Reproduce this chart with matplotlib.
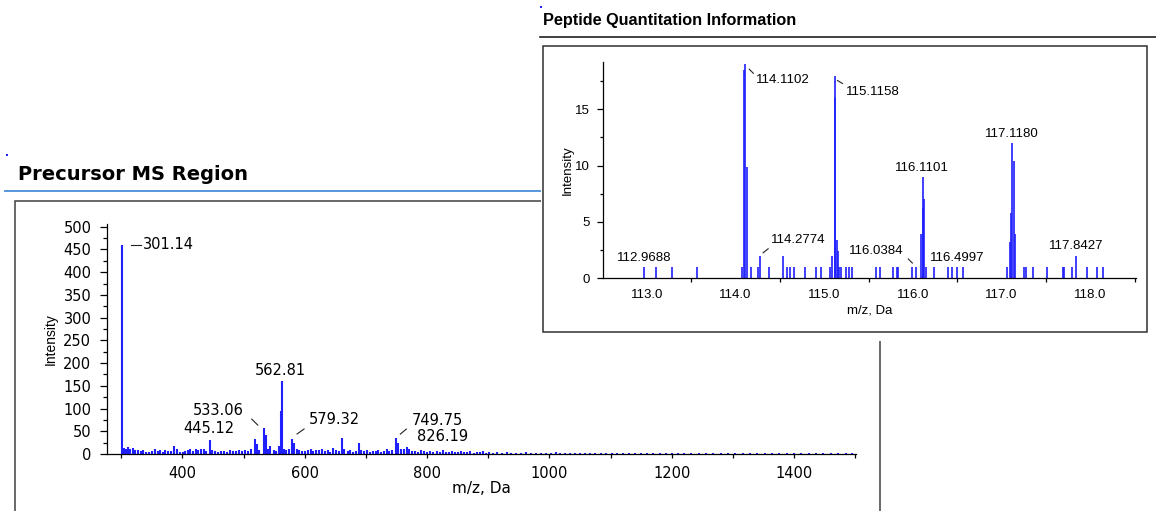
import matplotlib
matplotlib.use('Agg')
import matplotlib.pyplot as plt
from matplotlib.patches import Rectangle
from matplotlib.lines import Line2D
from matplotlib.transforms import IdentityTransform
from matplotlib.ticker import MultipleLocator, FixedLocator

W, H = 1156, 511
BLUE = '#1f1fff'
RULE_BLUE = '#4a8fdb'

# ---- precursor MS spectrum (m/z, intensity) ----
prec_mz = [301.14, 304, 308, 311, 315, 319, 323, 327, 332, 336, 341, 346, 351, 355,
           360, 364, 368, 372, 377, 381, 387, 391, 396, 401, 405, 409, 413, 418, 422,
           426, 431, 435, 439, 445.12, 448, 453, 458, 463, 468, 473, 478, 483, 488,
           493, 498, 503, 508, 513, 518, 522, 526, 533.06, 536, 540, 544, 549, 553,
           558, 561, 562.81, 566, 570, 574, 579.32, 583, 587, 591, 596, 600, 605,
           610, 614, 619, 624, 629, 633, 638, 642, 647, 651, 656, 661, 665, 670, 674,
           679, 684, 688, 692, 697, 702, 706, 711, 716, 720, 725, 729, 734, 738, 743,
           749.75, 752, 757, 762, 767, 771, 775, 780, 785, 790, 795, 800, 805, 810,
           816, 821, 826.19, 831, 836, 841, 846, 851, 856, 861, 866, 871, 876, 881,
           886, 891, 896, 902, 908, 915, 922, 930, 938, 946, 954, 962, 970, 978, 986,
           994, 1002, 1010, 1018, 1026, 1034, 1042, 1050, 1058, 1066, 1075, 1084,
           1093, 1102, 1111, 1120, 1130, 1140, 1150, 1160, 1170, 1180, 1190, 1200,
           1210, 1220, 1232, 1244, 1256, 1268, 1280, 1292, 1304, 1316, 1328, 1340,
           1352, 1364, 1376, 1388, 1400, 1412, 1424, 1436, 1448, 1460, 1472, 1484, 1495]
prec_int = [460, 14, 12, 15, 10, 13, 8, 9, 6, 8, 5, 4, 7, 12,
            6, 8, 5, 9, 7, 6, 18, 10, 5, 4, 6, 8, 11, 7, 12,
            9, 12, 10, 6, 30, 9, 6, 5, 7, 6, 5, 8, 7, 6,
            9, 7, 8, 6, 10, 33, 22, 9, 57, 42, 10, 18, 8, 6,
            18, 95, 160, 12, 8, 10, 33, 25, 12, 8, 7, 6, 8,
            10, 6, 9, 8, 10, 6, 8, 5, 14, 9, 7, 35, 10, 6, 8,
            5, 7, 24, 8, 6, 9, 5, 7, 6, 8, 5, 6, 12, 6, 8,
            35, 25, 10, 12, 15, 10, 7, 6, 5, 8, 6, 5, 7, 4,
            6, 5, 9, 5, 4, 6, 5, 4, 7, 4, 5, 6, 3, 5,
            4, 7, 3, 4, 3, 4, 3, 4, 3, 2, 3, 4, 3, 2, 3,
            2, 3, 4, 2, 3, 2, 3, 2, 3, 2, 3, 2,
            3, 2, 2, 3, 2, 2, 3, 2, 2, 3, 2, 2,
            3, 2, 2, 3, 2, 2, 3, 2, 2, 3, 2, 2,
            3, 2, 2, 3, 2, 2, 3, 2, 2, 3, 2, 2, 3]
prec_labels = ['301.14', '445.12', '533.06', '562.81', '579.32', '749.75', '826.19']
prec_label_mz = [301.14, 445.12, 533.06, 562.81, 579.32, 749.75, 826.19]
prec_label_int = [460, 30, 57, 160, 33, 35, 9]

# ---- reporter ion region (m/z, intensity) ----
quant_mz = [112.9688, 113.10, 113.28, 113.57, 114.07, 114.095, 114.1102, 114.125,
            114.175, 114.255, 114.2774, 114.38, 114.53, 114.575, 114.61, 114.655,
            114.78, 114.905, 114.96, 115.07, 115.09, 115.1158, 115.125, 115.14,
            115.155, 115.17, 115.185, 115.245, 115.275, 115.315, 115.58, 115.63,
            115.77, 115.815, 115.835, 115.985, 116.0384, 116.09, 116.1101, 116.118,
            116.128, 116.148, 116.238, 116.40, 116.437, 116.4997, 116.568, 117.064,
            117.095, 117.108, 117.1180, 117.134, 117.152, 117.253, 117.275, 117.35,
            117.515, 117.689, 117.703, 117.79, 117.8427, 117.96, 118.079, 118.14]
quant_int = [1, 1, 1, 1, 1, 18.5, 19.0, 9.9,
             1, 1, 2, 1, 2, 1, 1, 1,
             1, 1, 1, 1, 2, 18.0, 16.0, 3.4,
             2.4, 1, 1, 1, 1, 1, 1, 1,
             1, 1, 1, 1, 1, 3.9, 9.0, 6.2,
             7.0, 1, 1, 1, 1, 1, 1, 1,
             3.2, 5.8, 12.0, 10.4, 3.9, 1, 1, 1,
             1, 1, 1, 1, 2, 1, 1, 1]
quant_labels = ['112.9688', '114.1102', '114.2774', '115.1158', '116.0384',
                '116.1101', '116.4997', '117.1180', '117.8427']
quant_label_mz = [112.9688, 114.1102, 114.2774, 115.1158, 116.0384,
                  116.1101, 116.4997, 117.1180, 117.8427]
quant_label_int = [1, 19.0, 2, 18.0, 1, 9.0, 1, 12.0, 2]

# label placement in pixels from the peak top (dx, dy: +right, +down), leader or None
prec_layout = [
    ((21, 0, 'left', 'center'), (9, 0, 19, 0)),
    ((-1, -4, 'center', 'bottom'), None),
    ((-46, -18, 'center', 'center'), (-12, -9, -6, -3)),
    ((-2, -3, 'center', 'bottom'), None),
    ((42, -19, 'center', 'center'), (5, -5, 12, -10)),
    ((41, -18, 'center', 'center'), (4, -4, 10, -9)),
    ((-1, -6, 'center', 'bottom'), None),
]
quant_layout = [
    ((0, -3, 'center', 'bottom'), None),
    ((11, 16, 'left', 'center'), (4, 5, 8, 9)),
    ((11, -16, 'left', 'center'), (3, -3, 8, -7)),
    ((11, 16, 'left', 'center'), (3, 5, 8, 8)),
    ((-40, -16, 'center', 'center'), (-8, -8, -4, -4)),
    ((-1, -3, 'center', 'bottom'), None),
    ((0, -3, 'center', 'bottom'), None),
    ((0, -3, 'center', 'bottom'), None),
    ((0, -4, 'center', 'bottom'), None),
]


def frac(x0, y0, x1, y1):
    return [x0 / W, 1 - y1 / H, (x1 - x0) / W, (y1 - y0) / H]


def fig_line(fig, x0, y0, x1, y1, **kw):
    fig.add_artist(Line2D([x0 / W, x1 / W], [1 - y0 / H, 1 - y1 / H],
                          transform=fig.transFigure, **kw))


def fig_rect(fig, x0, y0, x1, y1, **kw):
    fig.add_artist(Rectangle((x0 / W, 1 - y1 / H), (x1 - x0) / W, (y1 - y0) / H,
                             transform=fig.transFigure, **kw))


def label_peaks(fig, ax, labels, mzs, ints, layout, font, size, z):
    for lab, mz, inten, (txt, lead) in zip(labels, mzs, ints, layout):
        dx, dy, ha, va = txt
        ax.annotate(lab, xy=(mz, inten), xytext=(dx, -dy), textcoords='offset pixels',
                    ha=ha, va=va, fontsize=size, family=font, annotation_clip=False)
        if lead:
            x0, y0, x1, y1 = lead
            px, py = ax.transData.transform((mz, inten))
            fig.add_artist(Line2D([px + x0, px + x1], [py - y0, py - y1],
                                  transform=IdentityTransform(), color='#222222',
                                  lw=0.8, zorder=z))


def style_axes(ax):
    for s in ('top', 'right'):
        ax.spines[s].set_visible(False)
    for s in ('left', 'bottom'):
        ax.spines[s].set_color('black')
        ax.spines[s].set_linewidth(0.9)
    ax.patch.set_alpha(0)


fig = plt.figure(figsize=(W / 100, H / 100), dpi=100)

# ---------- left panel: Precursor MS Region ----------
fig_rect(fig, 6, 154, 8, 156, facecolor=BLUE, edgecolor='none', zorder=0.5)
fig.text(18 / W, 1 - 180 / H, 'Precursor MS Region', fontsize=14, fontweight='bold',
         family='DejaVu Sans', va='baseline', ha='left')
fig_line(fig, 5, 191, 541, 191, color=RULE_BLUE, lw=1.3, zorder=0.5)
fig_rect(fig, 15, 201, 880, 530, facecolor='none', edgecolor='#404040', lw=1.1, zorder=0.5)

axl = fig.add_axes(frac(107.3, 224, 855.6, 454), zorder=0.6)
style_axes(axl)
axl.vlines(prec_mz, 0, prec_int, color=BLUE, lw=1.5)
axl.set_xlim(277.3, 1500.5)
axl.set_ylim(0, 506)
axl.xaxis.set_major_locator(FixedLocator([400, 600, 800, 1000, 1200, 1400]))
axl.xaxis.set_minor_locator(FixedLocator([300, 500, 700, 900, 1100, 1300, 1500]))
axl.yaxis.set_major_locator(MultipleLocator(50))
axl.yaxis.set_minor_locator(MultipleLocator(25))
axl.tick_params(axis='x', which='both', length=3, width=0.9, pad=6,
                labelsize=10.5, labelfontfamily='DejaVu Sans')
axl.tick_params(axis='y', which='major', length=5, width=0.9, pad=6.5,
                labelsize=10.5, labelfontfamily='DejaVu Sans')
axl.tick_params(axis='y', which='minor', length=3, width=0.9)
axl.text(-0.0762, 0.5, 'Intensity', rotation=90, ha='center', va='center',
         transform=axl.transAxes, fontsize=10, family='Liberation Sans')
axl.text(0.5, -0.149, 'm/z, Da', ha='center', va='center', transform=axl.transAxes,
         fontsize=11, family='DejaVu Sans')
label_peaks(fig, axl, prec_labels, prec_label_mz, prec_label_int, prec_layout,
            'DejaVu Sans', 10.5, 0.7)

# white sheet of the second panel lying over the first
fig_rect(fig, 541, 0, 1156, 341, facecolor='white', edgecolor='none', zorder=1)

# ---------- right panel: Peptide Quantitation Information ----------
fig_rect(fig, 540, 6, 542, 8, facecolor=BLUE, edgecolor='none', zorder=1.2)
fig.text(543 / W, 1 - 24.5 / H, 'Peptide Quantitation Information', fontsize=11.7,
         fontweight='bold', family='Liberation Sans', va='baseline', ha='left', zorder=3)
fig_line(fig, 540, 37.5, 1156, 37.5, color='#202020', lw=1.2, zorder=1.2)
fig_rect(fig, 543, 46, 1147, 332, facecolor='white', edgecolor='#303030', lw=1.1,
         zorder=1.3)

axr = fig.add_axes(frac(602.5, 62, 1136, 278.3), zorder=2)
style_axes(axr)
axr.vlines(quant_mz, 0, quant_int, color=BLUE, lw=1.2)
axr.set_xlim(112.5, 118.515)
axr.set_ylim(0, 19.2)
axr.xaxis.set_major_locator(FixedLocator([113, 114, 115, 116, 117, 118]))
axr.xaxis.set_major_formatter(lambda v, p: f'{v:.1f}')
axr.xaxis.set_minor_locator(FixedLocator([113.5, 114.5, 115.5, 116.5, 117.5, 118.5]))
axr.yaxis.set_major_locator(FixedLocator([0, 5, 10, 15]))
axr.yaxis.set_minor_locator(FixedLocator([2.5, 7.5, 12.5, 17.5]))
axr.tick_params(axis='x', which='major', length=0, pad=8,
                labelsize=9.5, labelfontfamily='Liberation Sans')
axr.tick_params(axis='x', which='minor', length=3, width=0.9)
axr.tick_params(axis='y', which='major', length=4.5, width=0.9, pad=4.5,
                labelsize=9.5, labelfontfamily='Liberation Sans')
axr.tick_params(axis='y', which='minor', length=2.5, width=0.9)
axr.text(-0.0647, 0.5, 'Intensity', rotation=90, ha='center', va='center',
         transform=axr.transAxes, fontsize=9.5, family='Liberation Sans')
axr.text(0.5, -0.1466, 'm/z, Da', ha='center', va='center', transform=axr.transAxes,
         fontsize=9.5, family='Liberation Sans')
label_peaks(fig, axr, quant_labels, quant_label_mz, quant_label_int, quant_layout,
            'Liberation Sans', 9.5, 2.5)

fig.savefig('out.png', dpi=100, facecolor='white')
